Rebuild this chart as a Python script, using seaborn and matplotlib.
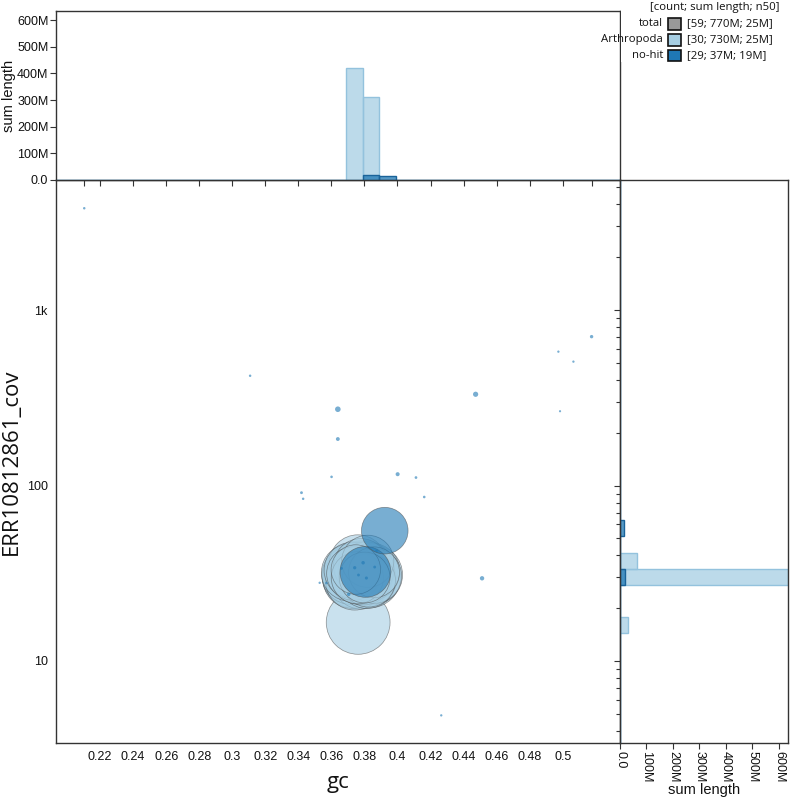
import numpy as np
import pandas as pd
import matplotlib
matplotlib.use('Agg')
import matplotlib.pyplot as plt
import matplotlib.ticker as mticker
from matplotlib.patches import Rectangle
import seaborn as sns

# данные: контиги Arthropoda (gc, покрытие, длина в Mb)
arth_gc = [0.3762, 0.3745, 0.3735, 0.3770, 0.3728, 0.3752, 0.3718, 0.3780, 0.3760, 0.3741,
           0.3712, 0.3766, 0.3725, 0.3778, 0.3733, 0.3757, 0.3748, 0.3805, 0.3832, 0.3798,
           0.3851, 0.3816, 0.3795, 0.3842, 0.3810, 0.3860, 0.3826, 0.3820, 0.3858, 0.3801]
arth_cov = [16.6, 31.0, 30.2, 32.1, 29.4, 32.6, 30.8, 29.0, 36.0, 28.6,
            31.9, 30.4, 32.9, 34.8, 31.5, 29.8, 33.2, 31.4, 30.1, 32.8,
            31.0, 29.2, 30.6, 32.3, 33.1, 30.5, 28.8, 37.0, 32.0, 29.9]
arth_len = [30, 32, 29, 27, 26, 26, 25, 25, 24, 25,
            24, 23, 23, 22, 21, 20, 18, 31, 28, 27,
            26, 25, 25, 24, 23, 22, 21, 20, 19, 19]

# контиги без хитов
nohit_gc = [0.3806, 0.3923, 0.2104, 0.3108, 0.3639, 0.3639, 0.3601, 0.4001, 0.4112, 0.4162,
            0.3419, 0.3429, 0.4473, 0.4974, 0.5065, 0.4984, 0.5175, 0.4512, 0.4265, 0.3661,
            0.3741, 0.3792, 0.3862, 0.3812, 0.3705, 0.3529, 0.3570, 0.3873, 0.3764]
nohit_cov = [32.2, 55.3, 3800, 422, 272, 184, 112, 116, 111, 86,
             91, 84, 331, 579, 508, 265, 705, 29.6, 4.9, 33.7,
             34.0, 36.3, 34.3, 29.7, 24.0, 27.9, 27.8, 42.4, 30.9]
nohit_len = [19, 16, 0.045, 0.045, 0.23, 0.11, 0.05, 0.12, 0.055, 0.05,
             0.06, 0.045, 0.2, 0.04, 0.04, 0.035, 0.085, 0.14, 0.04, 0.06,
             0.08, 0.09, 0.06, 0.07, 0.09, 0.04, 0.045, 0.05, 0.06]

taxa_order = ['Arthropoda', 'no-hit']
palette = {'Arthropoda': '#a6cee3', 'no-hit': '#1f78b4'}
edge_palette = {'Arthropoda': '#93c2dd', 'no-hit': '#1a6399'}

gc_ticks = [0.22, 0.24, 0.26, 0.28, 0.3, 0.32, 0.34, 0.36, 0.38, 0.4, 0.42, 0.44, 0.46, 0.48, 0.5]
cov_ticks = [10, 100, 1000]
cov_tick_labels = ['10', '100', '1k']
len_ticks = [0, 1e8, 2e8, 3e8, 4e8, 5e8, 6e8]
len_tick_labels = ['0.0', '100M', '200M', '300M', '400M', '500M', '600M']

df = pd.DataFrame({
    'gc': arth_gc + nohit_gc,
    'cov': arth_cov + nohit_cov,
    'length': np.array(arth_len + nohit_len) * 1e6,
    'taxon': ['Arthropoda'] * len(arth_gc) + ['no-hit'] * len(nohit_gc),
})

# бины гистограмм (списком, иначе seaborn ругается при weights)
gc_bins = list(0.369 + 0.01 * np.arange(-20, 20))
cov_bins = list(1.435 + 0.0915 * np.arange(-25, 30))  # в log10

W, H = 793, 800
AX_COL = '#333333'
TXT_COL = '#111111'
TICK_FS = 9
sns.set_style('white')
plt.rcParams['font.family'] = ['Liberation Sans', 'DejaVu Sans']
plt.rcParams['axes.edgecolor'] = AX_COL
plt.rcParams['axes.linewidth'] = 1.0
plt.rcParams['text.color'] = TXT_COL

fig = plt.figure(figsize=(W / 100, H / 100), dpi=100)
ax = fig.add_axes([56 / W, 1 - 743 / H, 564 / W, 563 / H])
ax_top = fig.add_axes([56 / W, 1 - 180 / H, 564 / W, 169 / H], sharex=ax)
ax_right = fig.add_axes([620 / W, 1 - 743 / H, 168 / W, 563 / H], sharey=ax)

# основной блоб-плот: по таксонам, внутри - большие сначала
ax.set_yscale('log')
plot_df = df.assign(order=df['taxon'].map({t: i for i, t in enumerate(taxa_order)}))
plot_df = plot_df.sort_values(['order', 'length'], ascending=[True, False])
sns.scatterplot(data=plot_df, x='gc', y='cov',
                hue='taxon', hue_order=taxa_order, palette=palette,
                size='length', sizes=(0, 70.4 * 40), size_norm=(0, 40e6),
                alpha=0.6, edgecolor='#4a4a4a',
                linewidth=np.where(plot_df['length'] > 1e6, 0.5, 0.0),
                legend=False, ax=ax)

# гистограммы
for t in taxa_order:
    sub = df[df['taxon'] == t]
    sns.histplot(data=sub, x='gc', weights='length', bins=gc_bins, color=palette[t],
                 alpha=0.75, edgecolor=edge_palette[t], linewidth=1, ax=ax_top)
    sns.histplot(data=sub, y='cov', weights='length', bins=cov_bins, log_scale=True,
                 color=palette[t], alpha=0.75, edgecolor=edge_palette[t], linewidth=1,
                 ax=ax_right)

# наведем красоту
ax.set_xlim(0.1933, 0.5347)
ax.set_ylim(3.41, 5505)
ax.xaxis.set_major_locator(mticker.FixedLocator(gc_ticks))
ax.xaxis.set_major_formatter(mticker.FixedFormatter([f'{v:g}' for v in gc_ticks]))
ax.xaxis.set_minor_locator(mticker.FixedLocator([df['gc'].min(), df['gc'].max()]))
ax.yaxis.set_major_locator(mticker.FixedLocator(cov_ticks))
ax.yaxis.set_major_formatter(mticker.FixedFormatter(cov_tick_labels))
ax.yaxis.set_minor_locator(mticker.LogLocator(base=10, subs=np.arange(2, 10)))
ax.yaxis.set_minor_formatter(mticker.NullFormatter())
ax.set_xlabel('')
ax.set_ylabel('')
ax.tick_params(which='both', direction='out', labelsize=TICK_FS, color=AX_COL,
               labelcolor=TXT_COL, width=0.8, pad=2)
ax.tick_params(which='major', length=4)
ax.tick_params(which='minor', length=3)
ax.tick_params(axis='x', which='minor', length=4)

ax_top.set_ylim(0, 6.34e8)
ax_top.set_yticks(len_ticks)
ax_top.set_yticklabels(len_tick_labels)
ax_top.set_xlabel('')
ax_top.set_ylabel('')
ax_top.tick_params(axis='x', which='both', bottom=True, labelbottom=False, direction='out',
                   length=4, color=AX_COL, width=0.8)
ax_top.tick_params(axis='y', left=True, direction='out', length=4, labelsize=TICK_FS,
                   color=AX_COL, labelcolor=TXT_COL, width=0.8, pad=1.5)

ax_right.set_xlim(0, 6.34e8)
ax_right.set_xticks(len_ticks)
ax_right.set_xticklabels(len_tick_labels, rotation=-90)
ax_right.set_xlabel('')
ax_right.set_ylabel('')
ax_right.set_ylim(3.41, 5505)
ax_right.tick_params(axis='y', which='both', left=True, labelleft=False, direction='out',
                     color=AX_COL, width=0.8)
ax_right.tick_params(axis='y', which='major', length=4)
ax_right.tick_params(axis='y', which='minor', length=3)
ax_right.tick_params(axis='x', bottom=True, direction='out', length=4, labelsize=TICK_FS,
                     color=AX_COL, labelcolor=TXT_COL, width=0.8, pad=1.5)

# подписи осей
fig.text(338 / W, 1 - 788 / H, 'gc', ha='center', va='baseline', fontsize=16, family='Open Sans')
fig.text(11 / W, 1 - 462 / H, 'ERR10812861_cov', rotation=90, ha='center', va='center',
         fontsize=16, family='Open Sans')
fig.text(9 / W, 1 - 95.5 / H, 'sum length', rotation=90, ha='center', va='center', fontsize=10.5)
fig.text(704 / W, 1 - 797 / H, 'sum length', ha='center', va='bottom', fontsize=10.5)


# легенда
def n50(lengths):
    s = np.sort(np.asarray(lengths))[::-1]
    return s[np.searchsorted(np.cumsum(s), s.sum() / 2)]


def fmt(v):
    r = float(f'{v:.2g}')
    return f'{r / 1e6:g}M'


fig.patches.append(Rectangle((620.6 / W, 1 - 62 / H), 173 / W, 62 / H, transform=fig.transFigure,
                             facecolor='white', edgecolor='none', zorder=2))
fig.text(650 / W, 1 - 7.5 / H, '[count; sum length; n50]', ha='left', va='center',
         fontsize=8.2, family='Open Sans', zorder=3)
rows = [('total', '#999999', df)] + [(t, palette[t], df[df['taxon'] == t]) for t in taxa_order]
for i, (name, col, sub) in enumerate(rows):
    y = 24 + i * 15.7
    fig.text(663 / W, 1 - y / H, name, ha='right', va='center', fontsize=8.2,
             family='Open Sans', zorder=3)
    fig.patches.append(Rectangle((668 / W, 1 - (y + 5.8) / H), 12.5 / W, 11.5 / H,
                                 transform=fig.transFigure, facecolor=col,
                                 edgecolor='#111111', linewidth=1.2, zorder=3))
    label = f'[{len(sub)}; {fmt(sub["length"].sum())}; {fmt(n50(sub["length"]))}]'
    fig.text(687 / W, 1 - y / H, label, ha='left', va='center', fontsize=8.2,
             family='Open Sans', zorder=3)

plt.savefig('out.png', dpi=100)
plt.close()
